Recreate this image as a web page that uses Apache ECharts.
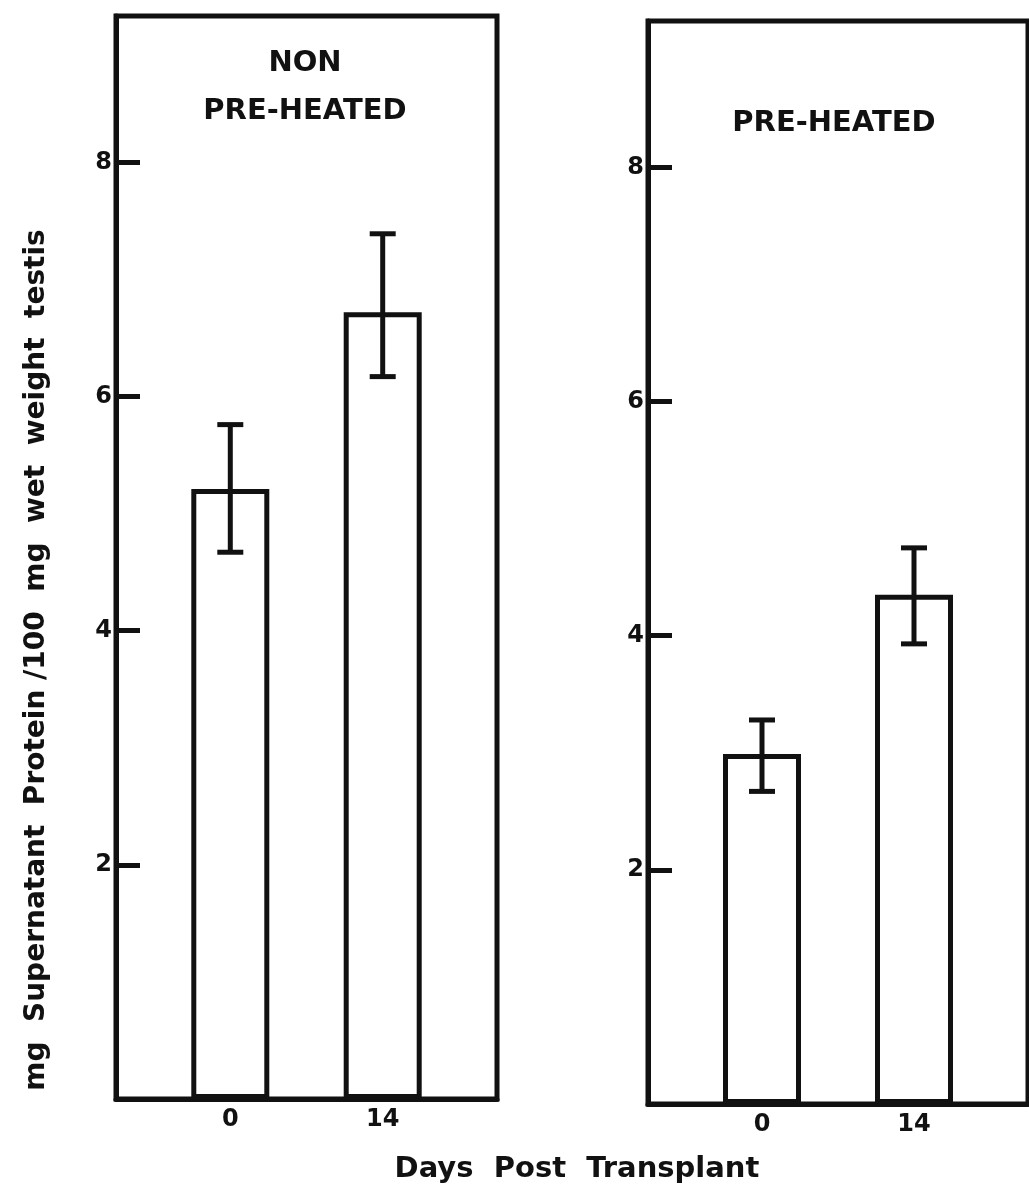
<!DOCTYPE html>
<html>
<head>
<meta charset="utf-8">
<script src="https://cdn.jsdelivr.net/npm/echarts@6/dist/echarts.min.js"></script>
<style>
  html, body { margin: 0; padding: 0; background: #ffffff; }
  #chart { width: 1029px; height: 1195px; }
</style>
</head>
<body>
<div id="chart"></div>
<script>
// ---- data ----
const days = ['0', '14'];
const nonPreMean = [5.21, 6.72];
const nonPreLow  = [4.67, 6.17];
const nonPreHigh = [5.76, 7.39];
const preMean = [2.99, 4.35];
const preLow  = [2.67, 3.93];
const preHigh = [3.28, 4.75];
const yTicks = [2, 4, 6, 8];
const yMax = 9.25;

// ---- layout (not data) ----
const barPos = [0.3, 0.7];
const INK = '#111';
const FONT = '"DejaVu Sans", sans-serif';

const chart = echarts.init(document.getElementById('chart'), null, { renderer: 'canvas' });

function nearestDay(v) {
  let best = 0;
  for (let i = 1; i < barPos.length; i++) {
    if (Math.abs(barPos[i] - v) < Math.abs(barPos[best] - v)) best = i;
  }
  return days[best];
}

function makeX(gridIndex) {
  return {
    type: 'value', gridIndex, min: 0, max: 1,
    splitLine: { show: false },
    axisLine: { show: true, onZero: false, lineStyle: { color: INK, width: 5 } },
    axisTick: { show: false },
    axisLabel: {
      customValues: barPos,
      formatter: v => nearestDay(v),
      color: INK, fontSize: 24, fontWeight: 'bold', fontFamily: FONT, margin: 9
    }
  };
}
function makeY(gridIndex) {
  return {
    type: 'value', gridIndex, min: 0, max: yMax,
    splitLine: { show: false },
    axisLine: { show: true, lineStyle: { color: INK, width: 5 } },
    axisTick: { show: true, inside: true, length: 24, customValues: yTicks, lineStyle: { color: INK, width: 5 } },
    axisLabel: {
      customValues: yTicks,
      color: INK, fontSize: 24, fontWeight: 'bold', fontFamily: FONT, margin: 4
    }
  };
}

function errRender(low, high) {
  return function (params, api) {
    const i = params.dataIndex;
    const x = barPos[i];
    const top = api.coord([x, high[i]]);
    const bot = api.coord([x, low[i]]);
    const cap = 13;
    const style = { stroke: INK, lineWidth: 5, lineCap: 'butt' };
    return {
      type: 'group',
      children: [
        { type: 'line', shape: { x1: top[0], y1: top[1], x2: bot[0], y2: bot[1] }, style },
        { type: 'line', shape: { x1: top[0] - cap, y1: top[1], x2: top[0] + cap, y2: top[1] }, style },
        { type: 'line', shape: { x1: bot[0] - cap, y1: bot[1], x2: bot[0] + cap, y2: bot[1] }, style }
      ]
    };
  };
}

const barStyle = { color: '#ffffff', borderColor: INK, borderWidth: 5 };

const option = {
  backgroundColor: '#ffffff',
  animation: false,
  title: [
    { text: 'NON\nPRE-HEATED', left: 305, top: 39, textAlign: 'center', padding: 0,
      textStyle: { color: INK, fontSize: 29, fontWeight: 'bold', fontFamily: FONT, lineHeight: 48, align: 'center' } },
    { text: 'PRE-HEATED', left: 834, top: 99, textAlign: 'center', padding: 0,
      textStyle: { color: INK, fontSize: 29, fontWeight: 'bold', fontFamily: FONT, lineHeight: 48 } }
  ],
  grid: [
    { left: 116, right: 532, top: 16, bottom: 96, show: true, borderColor: INK, borderWidth: 5, backgroundColor: 'transparent' },
    { left: 648, right: 1, top: 21, bottom: 91, show: true, borderColor: INK, borderWidth: 5, backgroundColor: 'transparent' }
  ],
  xAxis: [makeX(0), makeX(1)],
  yAxis: [makeY(0), makeY(1)],
  series: [
    { type: 'bar', xAxisIndex: 0, yAxisIndex: 0, barWidth: 78,
      data: nonPreMean.map((v, i) => [barPos[i], v]), itemStyle: barStyle },
    { type: 'bar', xAxisIndex: 1, yAxisIndex: 1, barWidth: 78,
      data: preMean.map((v, i) => [barPos[i], v]), itemStyle: barStyle },
    { type: 'custom', xAxisIndex: 0, yAxisIndex: 0, z: 5,
      data: nonPreMean.map((v, i) => [barPos[i], v]), renderItem: errRender(nonPreLow, nonPreHigh) },
    { type: 'custom', xAxisIndex: 1, yAxisIndex: 1, z: 5,
      data: preMean.map((v, i) => [barPos[i], v]), renderItem: errRender(preLow, preHigh) }
  ],
  graphic: [
    { type: 'text', x: 37, y: 660, rotation: Math.PI / 2,
      style: { text: 'mg  Supernatant  Protein /100  mg  wet  weight  testis', fill: INK,
        font: 'bold 28px ' + FONT, textAlign: 'center', textVerticalAlign: 'middle' } },
    { type: 'text', x: 577, y: 1169,
      style: { text: 'Days  Post  Transplant', fill: INK,
        font: 'bold 29px ' + FONT, textAlign: 'center', textVerticalAlign: 'middle' } }
  ]
};
chart.setOption(option);
</script>
</body>
</html>
